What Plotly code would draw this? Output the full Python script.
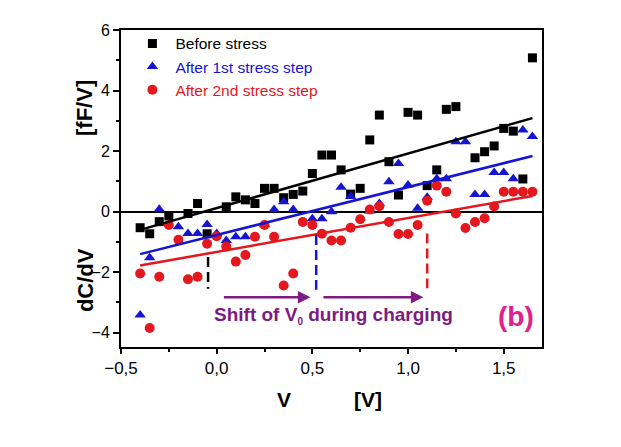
import numpy as np
import plotly.graph_objects as go

# ---------------- data ----------------
before_x = [-0.40, -0.35, -0.30, -0.25, -0.15, -0.10, -0.05, 0.05, 0.10, 0.15, 0.20, 0.25, 0.30, 0.35,
            0.40, 0.45, 0.50, 0.55, 0.60, 0.65, 0.70, 0.75, 0.80, 0.85, 0.90, 0.95, 1.00, 1.05,
            1.10, 1.15, 1.20, 1.25, 1.35, 1.40, 1.45, 1.50, 1.55, 1.60, 1.65]
before_y = [-0.53, -0.73, -0.33, -0.14, -0.06, 0.27, -0.73, 0.16, 0.49, 0.39, 0.27, 0.77, 0.77, 0.46,
            0.57, 0.68, 1.26, 1.87, 1.87, 1.38, 0.58, 0.77, 2.37, 3.19, 1.65, 0.55, 3.28, 3.19,
            0.86, 1.38, 3.38, 3.47, 1.78, 1.98, 2.17, 2.75, 2.66, 1.08, 5.08]

step1_x = [-0.40, -0.35, -0.30, -0.20, -0.15, -0.10, -0.05, 0.00, 0.05, 0.10, 0.15, 0.25, 0.30, 0.35,
           0.40, 0.50, 0.55, 0.60, 0.65, 0.70, 0.80, 0.85, 0.90, 0.95, 1.00, 1.05, 1.10, 1.15,
           1.20, 1.25, 1.30, 1.35, 1.40, 1.45, 1.50, 1.55, 1.60, 1.65]
step1_y = [-3.41, -1.52, 0.08, -0.50, -0.72, -0.72, -0.42, -0.72, -0.95, -0.83, -0.83, -0.43, 0.07, 0.33,
           0.07, -0.23, -0.23, 0.00, 0.81, 0.50, 0.02, 0.27, 0.99, 1.59, 0.88, 0.11, 0.48, 1.09,
           1.09, 2.31, 2.31, 0.57, 0.57, 1.29, 1.29, 1.09, 2.70, 2.48]

step2_x = [-0.40, -0.35, -0.30, -0.25, -0.20, -0.15, -0.10, -0.05, 0.00, 0.05, 0.10, 0.15, 0.20, 0.25,
           0.30, 0.35, 0.40, 0.45, 0.50, 0.55, 0.60, 0.65, 0.70, 0.75, 0.80, 0.85, 0.90, 0.95,
           1.00, 1.05, 1.10, 1.15, 1.20, 1.25, 1.30, 1.35, 1.40, 1.45, 1.50, 1.55, 1.60, 1.65]
step2_y = [-2.04, -3.84, -2.15, -0.44, -0.93, -2.23, -2.15, -1.06, -0.81, -1.15, -1.65, -1.43, -0.83, -0.44,
           -0.83, -2.44, -2.04, -0.34, -0.44, -0.73, -0.95, -0.95, -0.53, -0.25, 0.07, 0.18, -0.34, -0.74,
           -0.74, -0.44, 0.36, 0.86, 0.66, -0.06, -0.54, -0.34, -0.22, 0.17, 0.66, 0.66, 0.66, 0.66]

series_names = ["Before stress", "After 1st stress step", "After 2nd stress step"]
series_colors = ["#000000", "#1414D2", "#E4161E"]
series_symbols = ["square", "triangle-up", "circle"]

# linear fits as drawn in the original (slope, intercept) and fitted V range
fit_slope = [1.80, 1.58, 1.12]
fit_intercept = [0.12, -0.77, -1.33]
fit_range = [-0.40, 1.65]

# V0 positions (dashed markers) and shift arrows
v0_x = [-0.045, 0.52, 1.10]
v0_top = [-1.5, -0.77, -0.72]
v0_bottom = [-2.55, -2.58, -2.53]
v0_colors = ["#000000", "#1414D2", "#E4161E"]
arrow_x0 = [0.03, 0.55]
arrow_x1 = [0.49, 1.08]
arrow_y = -2.83

FONT = "Arial, Liberation Sans, sans-serif"
PURPLE = "#7E1A80"

fig = go.Figure()
xs = [before_x, step1_x, step2_x]
ys = [before_y, step1_y, step2_y]
for name, x, y, c, s in zip(series_names, xs, ys, series_colors, series_symbols):
    fig.add_trace(go.Scatter(
        x=x, y=y, mode="markers", name=f'<span style="color:{c}">{name}</span>',
        marker=dict(symbol=s, color=c, size=10 if s != "square" else 9, line=dict(width=0)),
    ))
for k, b, c in zip(fit_slope, fit_intercept, series_colors):
    xx = np.array(fit_range)
    fig.add_trace(go.Scatter(x=xx, y=k * xx + b, mode="lines", showlegend=False,
                             line=dict(color=c, width=2.5), hoverinfo="skip"))
for x, t, bt, c in zip(v0_x, v0_top, v0_bottom, v0_colors):
    fig.add_trace(go.Scatter(x=[x, x], y=[t, bt], mode="lines", showlegend=False,
                             line=dict(color=c, width=2.5, dash="10px,5px"), hoverinfo="skip"))

for a0, a1 in zip(arrow_x0, arrow_x1):
    fig.add_annotation(x=a1, y=arrow_y, ax=a0, ay=arrow_y, xref="x", yref="y", axref="x", ayref="y",
                       showarrow=True, arrowhead=2, arrowsize=1, arrowwidth=2.5, arrowcolor=PURPLE, text="")

fig.add_annotation(x=0.61, y=-3.42, xref="x", yref="y", showarrow=False,
                   xanchor="center", yanchor="middle",
                   text='<b>Shift of V<sub><span style="font-size:10px">0</span></sub> during charging</b>',
                   font=dict(family=FONT, size=19, color=PURPLE))
fig.add_annotation(x=1.565, y=-3.47, xref="x", yref="y", showarrow=False,
                   xanchor="center", yanchor="middle",
                   text="<b>(b)</b>", font=dict(family=FONT, size=28, color="#E2208C"))

# axis titles
fig.add_annotation(x=-0.0855, y=0.211, xref="paper", yref="paper", showarrow=False, textangle=-90,
                   xanchor="center", yanchor="middle",
                   text="<b>dC/dV</b>", font=dict(family=FONT, size=22, color="black"))
fig.add_annotation(x=-0.0855, y=0.754, xref="paper", yref="paper", showarrow=False, textangle=-90,
                   xanchor="center", yanchor="middle",
                   text="<b>[fF/V]</b>", font=dict(family=FONT, size=22, color="black"))
fig.add_annotation(x=0.387, y=-0.167, xref="paper", yref="paper", showarrow=False,
                   xanchor="center", yanchor="middle",
                   text="<b>V</b>", font=dict(family=FONT, size=21, color="black"))
fig.add_annotation(x=0.587, y=-0.167, xref="paper", yref="paper", showarrow=False,
                   xanchor="center", yanchor="middle",
                   text="<b>[V]</b>", font=dict(family=FONT, size=21, color="black"))

fig.update_layout(
    width=613, height=439,
    margin=dict(l=113, r=79, t=22, b=100),
    plot_bgcolor="white", paper_bgcolor="white",
    separators=", ",
    font=dict(family=FONT, color="black"),
    showlegend=True,
    legend=dict(x=0.02, y=1.01, xanchor="left", yanchor="top", bgcolor="rgba(0,0,0,0)",
                font=dict(family=FONT, size=15.5), itemwidth=36, tracegroupgap=0),
    xaxis=dict(range=[-0.5, 1.7], tickvals=[-0.5, 0, 0.5, 1.0, 1.5], tickformat=".1f",
               ticks="outside", ticklen=5, tickwidth=2, tickcolor="black",
               minor=dict(tickvals=[-0.25, 0.25, 0.75, 1.25], ticks="outside", ticklen=3, tickwidth=2, tickcolor="black"),
               showline=True, linewidth=2, linecolor="black", mirror=True,
               showgrid=False, zeroline=False, tickfont=dict(size=17, family=FONT)),
    yaxis=dict(range=[-4.47, 6], tickvals=[-4, -2, 0, 2, 4, 6],
               ticks="outside", ticklen=6, tickwidth=2, tickcolor="black",
               minor=dict(tickvals=[-3, -1, 1, 3, 5], ticks="outside", ticklen=3, tickwidth=2, tickcolor="black"),
               showline=True, linewidth=2, linecolor="black", mirror=True,
               showgrid=False, zeroline=True, zerolinecolor="black", zerolinewidth=2,
               tickfont=dict(size=16, family=FONT)),
)

fig.write_html("out.html")
